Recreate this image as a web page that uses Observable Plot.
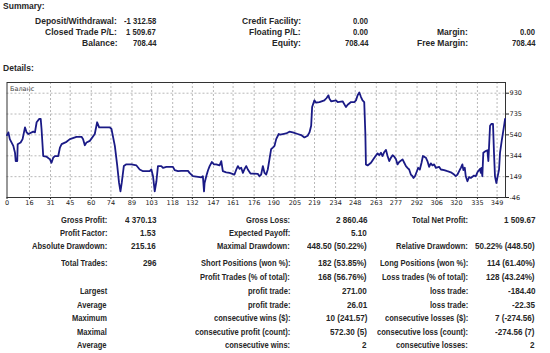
<!DOCTYPE html>
<html><head><meta charset="utf-8">
<script src="https://cdn.jsdelivr.net/npm/d3@7"></script>
<script src="https://cdn.jsdelivr.net/npm/@observablehq/plot@0.6"></script>
<style>
html,body{margin:0;padding:0;background:#fff;}
#page{position:relative;width:550px;height:353px;overflow:hidden;font-family:"Liberation Sans",Arial,sans-serif;font-weight:bold;font-size:8.7px;color:#262626;}
.t{position:absolute;white-space:nowrap;line-height:10px;transform-origin:0 50%;}
#chart{position:absolute;left:0;top:75.5px;}
</style></head>
<body><div id="page"></div>
<script>
// ---- data ----
const tradeIndex = [0,1,2,4.5,5.7,6.2,7.3,7.6,9.7,11.1,12.8,14,15.2,18.7,19.9,21.1,23,24,24.6,25.8,28.2,30.6,31.7,32.9,34.1,36.5,37.7,38.9,42.4,44.8,49.5,53.1,54.2,55.4,56.6,59,62.5,64.2,65.6,67.3,73.2,74.4,76.8,78.4,79.8,80.8,81.7,83.2,85,88.6,92.2,94.5,96.9,101.6,102.8,104,105.2,106.4,107.5,109.9,111.1,113.5,118.2,119.4,121.8,124.1,128.9,130,132.4,138.4,139.5,140.3,140.7,141.9,143.1,144.3,145.9,147.4,149,151.4,152.6,153.7,156.1,158.5,162,163.3,164.4,165.6,166.8,168,169.2,170.4,171.5,173.4,175,178.6,179.8,181,182.2,183.4,184.6,185.7,186.9,188.1,189.3,190.5,191.7,193.5,194.5,196.4,198.8,201.1,203.5,207,209.5,211.8,214.1,215.4,216.6,217.3,218.9,220.1,222.5,226,227.6,228.9,229.6,230.8,234.3,235.5,239,241.4,242.6,245,247.3,248.5,249.7,250.9,252.1,253.2,254.4,255.2,255.6,256.8,259.2,261.6,263.9,265.1,266.3,267.4,268.7,269.9,271,272.2,273.4,274.6,275.8,277,278.1,279.3,281.7,282.9,284.1,285.2,286.4,287.6,288.8,289.5,290.5,291.9,292.8,294,295.2,296.2,297.1,298.3,299.4,300.6,301.8,303,304.2,305.4,307.7,309,311.3,313.6,316.1,318.4,319.6,320.8,322,323.2,324.3,325,326,326.7,327.9,329.1,330.3,332.6,333.8,335,336.9,337.4,337.8,338.5,339.2,340.9,342.1,342.8,344,344.9,346.1,346.8,347.5,348.5,349.2,350.4,351.1,352.3,354,354.7];
const balance = [538,563,500,437,373,295,295,453,468,500,610,563,548,570,563,658,690,690,595,342,336,311,279,326,342,342,421,453,475,500,522,522,500,443,468,484,548,658,610,610,610,595,437,264,90,11,90,248,264,264,254,216,200,200,216,153,11,106,248,248,232,241,241,210,200,203,203,184,153,143,153,11,90,153,207,248,286,264,264,254,295,200,190,184,169,216,248,222,232,184,222,248,216,178,178,175,153,169,248,184,169,216,311,406,421,437,500,548,542,548,553,570,563,548,538,516,532,563,626,800,863,841,847,863,885,910,879,854,863,847,854,800,822,847,847,863,910,936,894,863,847,548,264,254,279,326,367,350,373,342,380,399,342,295,326,350,336,311,264,286,311,279,248,232,216,169,153,137,153,200,232,216,279,342,336,326,295,241,273,254,264,232,241,216,210,200,190,169,153,169,200,232,264,210,232,153,106,146,137,159,153,190,222,184,232,153,373,389,396,295,626,642,642,373,153,90,137,216,373,484,626,690];
const xTicks = [0,16,31,45,60,74,89,103,118,132,147,161,176,190,205,219,234,248,263,277,292,306,320,335,349];
const yTicks = [-46,149,344,540,735,930];
const seriesName = "Баланс";

const summaryLabels1 = ["Deposit/Withdrawal:","Closed Trade P/L:","Balance:"];
const summaryValues1 = ["-1 312.58","1 509.67","708.44"];
const summaryLabels2 = ["Credit Facility:","Floating P/L:","Equity:"];
const summaryValues2 = ["0.00","0.00","708.44"];
const summaryLabels3 = ["","Margin:","Free Margin:"];
const summaryValues3 = ["","0.00","708.44"];

const detailLabels1 = ["Gross Profit:","Profit Factor:","Absolute Drawdown:","Total Trades:","","Largest","Average","Maximum","Maximal","Average"];
const detailValues1 = ["4 370.13","1.53","215.16","296","","","","","",""];
const detailLabels2 = ["Gross Loss:","Expected Payoff:","Maximal Drawdown:","Short Positions (won %):","Profit Trades (% of total):","profit trade:","profit trade:","consecutive wins ($):","consecutive profit (count):","consecutive wins:"];
const detailValues2 = ["2 860.46","5.10","448.50 (50.22%)","182 (53.85%)","168 (56.76%)","271.00","26.01","10 (241.57)","572.30 (5)","2"];
const detailLabels3 = ["Total Net Profit:","","Relative Drawdown:","Long Positions (won %):","Loss trades (% of total):","loss trade:","loss trade:","consecutive losses ($):","consecutive loss (count):","consecutive losses:"];
const detailValues3 = ["1 509.67","","50.22% (448.50)","114 (61.40%)","128 (43.24%)","-184.40","-22.35","7 (-274.56)","-274.56 (7)","2"];

// ---- layout ----
const page = document.getElementById("page");
function put(text, x, y, align, sx){
  if(!text) return;
  const s = document.createElement("span");
  s.className = "t"; s.textContent = text;
  s.style.transform = "scaleX(" + sx + ")";
  page.appendChild(s);
  const w = s.getBoundingClientRect().width;
  s.style.left = (align === "right" ? x - w : x) + "px";
  s.style.top = (y - 5) + "px";
}
const TL = 0.98, TV = 0.88, BL = 0.87, BV = 0.93;
put("Summary:", 3, 6, "left", TL);
put("Details:", 3, 68, "left", TL);
const sumRows = [21.3, 32.3, 43.3];
sumRows.forEach((y,i)=>{
  put(summaryLabels1[i],117,y,"right",TL); put(summaryValues1[i],156,y,"right",TV);
  put(summaryLabels2[i],301,y,"right",TL); put(summaryValues2[i],368,y,"right",TV);
  put(summaryLabels3[i],468,y,"right",TL); put(summaryValues3[i],535,y,"right",TV);
});
const detRows = [219.5,232.7,245.5,262.5,276.5,290.5,304.5,318,331.5,344.5];
detRows.forEach((y,i)=>{
  put(detailLabels1[i],107,y,"right",BL); put(detailValues1[i],156,y,"right",BV);
  put(detailLabels2[i],290,y,"right",BL); put(detailValues2[i],367,y,"right",BV);
  put(detailLabels3[i],468,y,"right",BL); put(detailValues3[i],535,y,"right",BV);
});

// ---- chart ----
const data = tradeIndex.map((i,k)=>({i, v: balance[k]}));
const chart = Plot.plot({
  width: 550, height: 136,
  marginLeft: 6.5, marginRight: 45, marginTop: 6, marginBottom: 15,
  style: {fontFamily: "'DejaVu Sans', sans-serif", fontSize: "6.5px", fontWeight: "normal", background: "transparent", color: "#222"},
  x: {domain: [0, 355], ticks: xTicks, tickFormat: d => String(d), tickSize: 2, tickPadding: 1, label: null},
  y: {domain: [-46, 1030], ticks: yTicks, tickFormat: d => String(d), tickSize: 3, tickPadding: 1, label: null, axis: "right"},
  marks: [
    Plot.ruleX(xTicks.slice(1), {stroke: "#b8b8b8", strokeDasharray: "2,2", strokeWidth: 1}),
    Plot.ruleY(yTicks.slice(1), {stroke: "#b8b8b8", strokeDasharray: "2,2", strokeWidth: 1}),
    Plot.frame({stroke: "#333"}),
    Plot.line(data, {x: "i", y: "v", stroke: "#1a1a86", strokeWidth: 1.8, curve: "linear"}),
    Plot.text([seriesName], {frameAnchor: "top-left", dx: 3, dy: 4, fontSize: 6.5, fill: "#444"})
  ]
});
chart.id = "chart";
page.appendChild(chart);
</script></body></html>
